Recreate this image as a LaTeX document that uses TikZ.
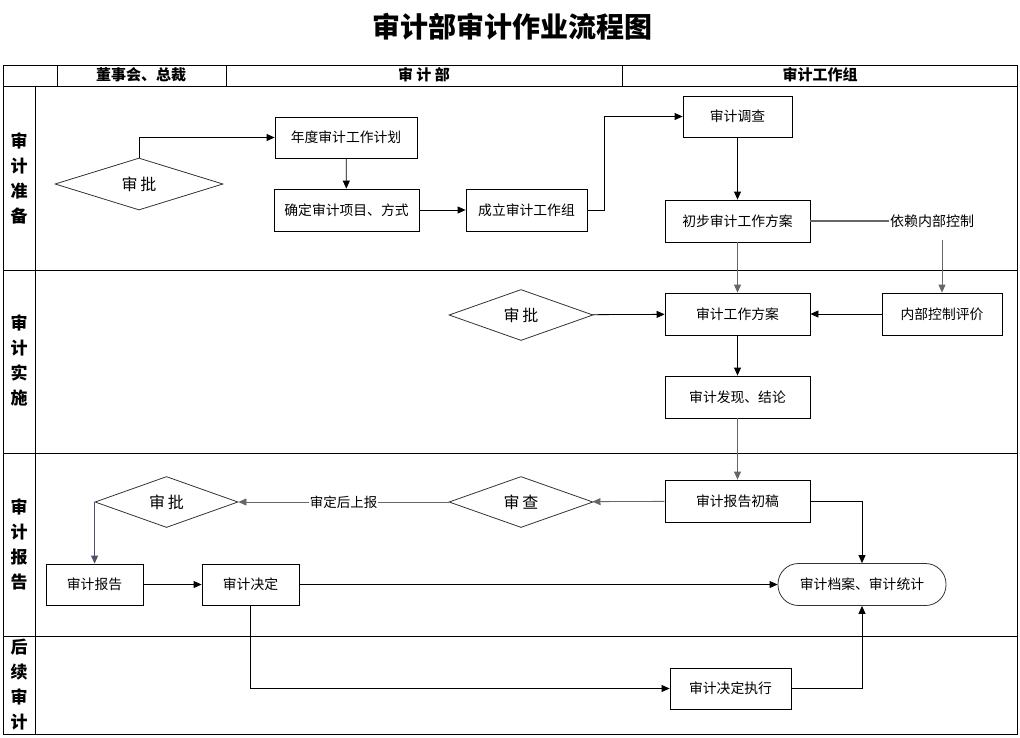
\documentclass[tikz,border=0pt]{standalone}
\usepackage{fontspec}
\setmainfont{Noto Sans CJK SC}
\usetikzlibrary{shapes.geometric,arrows.meta}
\begin{document}
\begin{tikzpicture}[x=1pt,y=-1pt,
  box/.style={draw=black,line width=0.8pt,inner sep=0pt,font=\fontsize{13.8}{13.8}\selectfont},
  dia/.style={diamond,draw=black!80,line width=0.8pt,inner sep=0pt,font=\fontsize{16}{16}\selectfont},
  arr/.style={draw=black,line width=0.8pt,-{Triangle[length=8pt,width=7pt]}},
  garr/.style={arr,draw=black!60},
  gline/.style={draw=black!60,line width=1.2pt},
  lane/.style={font=\fontsize{17}{25}\selectfont\bfseries,align=center,inner sep=0pt},
  hdr/.style={font=\fontsize{15}{15}\selectfont\bfseries,inner sep=0pt},
  lbl/.style={font=\fontsize{13.5}{13.5}\selectfont,inner sep=1pt}]
\useasboundingbox (0,0) rectangle (1020,737);
% title
\node[font=\fontsize{28}{28}\selectfont\bfseries] (title) at (512,27) {审计部审计作业流程图};
% table
\draw[line width=0.8pt] (3,65) rectangle (1017,734);
\draw[line width=0.8pt] (3,86) -- (1017,86);
\draw[line width=0.8pt] (57,65) -- (57,86) (226,65) -- (226,86) (622,65) -- (622,86);
\draw[line width=0.8pt] (35,86) -- (35,734);
\draw[line width=0.8pt] (3,270) -- (1017,270) (3,453) -- (1017,453) (3,636) -- (1017,636);
\node[hdr] (h1) at (141,75) {董事会、总裁};
\node[hdr] (h2) at (424,75) {审\ 计\ 部};
\node[hdr] (h3) at (820,75) {审计工作组};
\node[lane] (l1) at (19,178) {审\\计\\准\\备};
\node[lane] (l2) at (19,360) {审\\计\\实\\施};
\node[lane] (l3) at (19,544) {审\\计\\报\\告};
\node[lane] (l4) at (19,684.5) {后\\续\\审\\计};
% nodes
\node[box,minimum width=142pt,minimum height=41pt] (plan) at (346,137.5) {年度审计工作计划};
\node[dia,minimum width=168pt,minimum height=52pt] (appr1) at (139,184) {审\,批};
\node[box,minimum width=145pt,minimum height=42pt] (proj) at (346.5,210) {确定审计项目、方式};
\node[box,minimum width=121pt,minimum height=42pt] (team) at (526.5,210) {成立审计工作组};
\node[box,minimum width=109pt,minimum height=41pt] (survey) at (737.5,116.5) {审计调查};
\node[box,minimum width=145pt,minimum height=42pt] (prelim) at (737.5,221) {初步审计工作方案};
\node[lbl,font=\fontsize{14}{14}\selectfont] (rely) at (932,221) {依赖内部控制};
\node[box,minimum width=145pt,minimum height=42pt] (plan2) at (737.5,314) {审计工作方案};
\node[box,minimum width=120pt,minimum height=42pt] (icEval) at (942,314) {内部控制评价};
\node[dia,minimum width=144pt,minimum height=51pt] (appr2) at (521,315) {审\,批};
\node[box,minimum width=145pt,minimum height=42pt] (finding) at (737.5,397) {审计发现、结论};
\node[box,minimum width=145pt,minimum height=42pt] (draft) at (737.5,501) {审计报告初稿};
\node[dia,minimum width=144pt,minimum height=51pt] (review) at (521,502) {审\,查};
\node[dia,minimum width=143pt,minimum height=51pt] (appr3) at (166.5,502) {审\,批};
\node[box,minimum width=97pt,minimum height=41pt] (report) at (94.5,584.5) {审计报告};
\node[box,minimum width=97pt,minimum height=41pt] (decision) at (250.5,584.5) {审计决定};
\node[box,rounded corners=20.5pt,minimum width=168pt,minimum height=42pt,draw=black!80] (archive) at (862,584.5) {审计档案、审计统计};
\node[box,minimum width=121pt,minimum height=41pt] (exec) at (730.5,688.5) {审计决定执行};
% connectors
\draw[arr] (appr1.north) |- (plan.west);
\draw[arr] (plan) -- (proj);
\draw[arr] (proj) -- (team);
\draw[arr] (team.east) -- ++(17,0) |- (survey.west);
\draw[arr] (survey) -- (prelim);
\draw[garr] (prelim) -- (plan2);
\draw[gline] (prelim.east) -- (rely.west);
\draw[garr,shorten <=11pt] (icEval.north |- rely.south) -- (icEval.north);
\draw[arr] (icEval) -- (plan2);
\draw[arr] (appr2) -- (plan2);
\draw[arr] (plan2) -- (finding);
\draw[garr] (finding) -- (draft);
\draw[garr] (draft) -- (review);
\draw[garr] (review) -- node[lbl,fill=white] (lblrep) {审定后上报} (appr3);
\draw[garr,draw={rgb,255:red,80;green,80;blue,110}] (appr3.west) -- (appr3.west |- report.north);
\draw[arr] (report) -- (decision);
\draw[arr] (decision) -- (archive);
\draw[arr] (draft.east) -| (archive.north);
\draw[arr] (decision.south) |- (exec.west);
\draw[arr] (exec.east) -| (archive.south);
\end{tikzpicture}
\end{document}
